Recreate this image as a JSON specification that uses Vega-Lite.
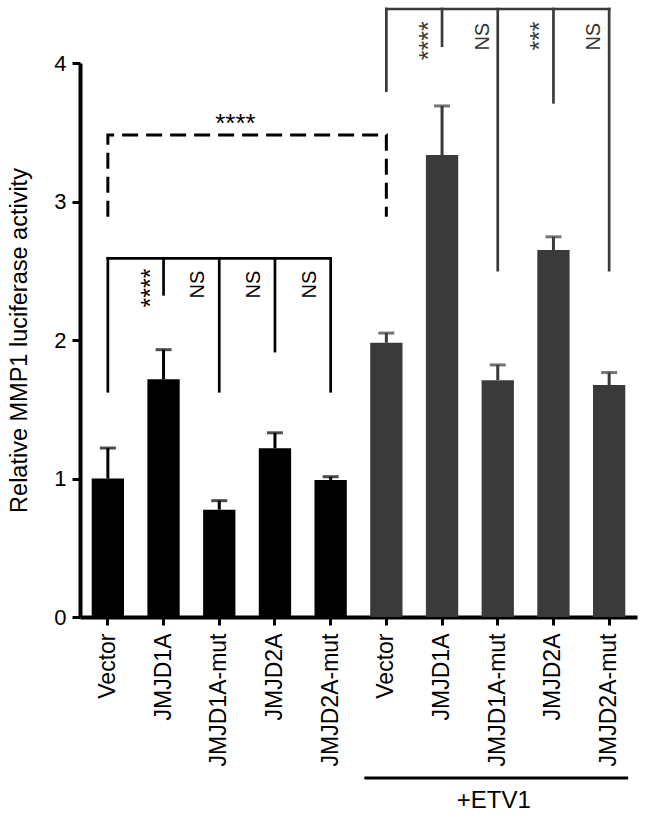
{
  "$schema": "https://vega.github.io/schema/vega-lite/v6.json",
  "autosize": {"type": "none"},
  "width": 557,
  "height": 554,
  "padding": {"left": 80, "top": 63, "right": 9, "bottom": 200},
  "background": "white",
  "config": {
    "view": {"stroke": null},
    "font": "Liberation Sans",
    "axis": {"grid": false, "domainColor": "#000", "tickColor": "#000", "labelColor": "#000", "titleColor": "#000", "labelFont": "Liberation Sans", "titleFont": "Liberation Sans"}
  },
  "datasets": {
    "bars": [
      {"key": "A:Vector", "group": "ctrl", "mean": 1.0, "upper": 1.22},
      {"key": "A:JMJD1A", "group": "ctrl", "mean": 1.716, "upper": 1.93},
      {"key": "A:JMJD1A-mut", "group": "ctrl", "mean": 0.775, "upper": 0.84},
      {"key": "A:JMJD2A", "group": "ctrl", "mean": 1.218, "upper": 1.33},
      {"key": "A:JMJD2A-mut", "group": "ctrl", "mean": 0.99, "upper": 1.013},
      {"key": "B:Vector", "group": "ETV1", "mean": 1.98, "upper": 2.05},
      {"key": "B:JMJD1A", "group": "ETV1", "mean": 3.335, "upper": 3.69},
      {"key": "B:JMJD1A-mut", "group": "ETV1", "mean": 1.71, "upper": 1.82},
      {"key": "B:JMJD2A", "group": "ETV1", "mean": 2.65, "upper": 2.745},
      {"key": "B:JMJD2A-mut", "group": "ETV1", "mean": 1.675, "upper": 1.765}
    ],
    "brackets": [
      {"key": "A:Vector", "key2": "A:JMJD2A-mut", "y": 2.59, "y2": 2.59, "group": "ctrl"},
      {"key": "A:Vector", "key2": "A:Vector", "y": 1.63, "y2": 2.59, "group": "ctrl"},
      {"key": "A:JMJD1A", "key2": "A:JMJD1A", "y": 2.33, "y2": 2.59, "group": "ctrl"},
      {"key": "A:JMJD1A-mut", "key2": "A:JMJD1A-mut", "y": 1.63, "y2": 2.59, "group": "ctrl"},
      {"key": "A:JMJD2A", "key2": "A:JMJD2A", "y": 1.92, "y2": 2.59, "group": "ctrl"},
      {"key": "A:JMJD2A-mut", "key2": "A:JMJD2A-mut", "y": 1.63, "y2": 2.59, "group": "ctrl"},
      {"key": "B:Vector", "key2": "B:JMJD2A-mut", "y": 4.39, "y2": 4.39, "group": "ETV1"},
      {"key": "B:Vector", "key2": "B:Vector", "y": 3.8, "y2": 4.39, "group": "ETV1"},
      {"key": "B:JMJD1A", "key2": "B:JMJD1A", "y": 4.125, "y2": 4.39, "group": "ETV1"},
      {"key": "B:JMJD1A-mut", "key2": "B:JMJD1A-mut", "y": 2.505, "y2": 4.39, "group": "ETV1"},
      {"key": "B:JMJD2A", "key2": "B:JMJD2A", "y": 3.716, "y2": 4.39, "group": "ETV1"},
      {"key": "B:JMJD2A-mut", "key2": "B:JMJD2A-mut", "y": 2.505, "y2": 4.39, "group": "ETV1"}
    ],
    "dashed": [
      {"key": "A:Vector", "y": 2.89, "ord": 1},
      {"key": "A:Vector", "y": 3.48, "ord": 2},
      {"key": "B:Vector", "y": 3.48, "ord": 3},
      {"key": "B:Vector", "y": 2.89, "ord": 4}
    ],
    "stars": [
      {"key": "A:JMJD1A", "y": 2.375, "label": "****", "group": "ctrl"},
      {"key": "B:JMJD1A", "y": 4.16, "label": "****", "group": "ETV1"},
      {"key": "B:JMJD2A", "y": 4.195, "label": "***", "group": "ETV1"}
    ],
    "nsLower": [
      {"key": "A:JMJD1A-mut", "y": 2.4, "label": "NS"},
      {"key": "A:JMJD2A", "y": 2.4, "label": "NS"},
      {"key": "A:JMJD2A-mut", "y": 2.4, "label": "NS"}
    ],
    "nsUpper": [
      {"key": "B:JMJD1A-mut", "y": 4.19, "label": "NS"},
      {"key": "B:JMJD2A-mut", "y": 4.19, "label": "NS"}
    ],
    "topStar": [
      {"key": "A:JMJD1A-mut", "y": 3.56, "label": "****"}
    ],
    "etv": [
      {"key": "B:Vector", "key2": "B:JMJD2A-mut", "y": -1.162, "labelKey": "B:JMJD1A-mut", "labelY": -1.33, "label": "+ETV1"}
    ]
  },
  "layer": [
    {
      "data": {"name": "bars"},
      "mark": {"type": "bar"},
      "encoding": {
        "x": {
          "field": "key", "type": "nominal", "title": null,
          "scale": {"domain": ["A:Vector", "A:JMJD1A", "A:JMJD1A-mut", "A:JMJD2A", "A:JMJD2A-mut", "B:Vector", "B:JMJD1A", "B:JMJD1A-mut", "B:JMJD2A", "B:JMJD2A-mut"], "paddingInner": 0.42, "paddingOuter": 0.21},
          "axis": {"labelExpr": "split(datum.label, ':')[1]", "labelAngle": -90, "labelFontSize": 23, "labelPadding": 8, "tickSize": 8, "tickWidth": 3, "domainWidth": 4, "labelLimit": 300}
        },
        "y": {
          "field": "mean", "type": "quantitative",
          "scale": {"domain": [0, 4], "nice": false},
          "axis": {"values": [0, 1, 2, 3, 4], "format": "d", "title": "Relative MMP1 luciferase activity", "titleFontSize": 23.5, "titleFontWeight": "normal", "titlePadding": 22, "labelFontSize": 22, "labelPadding": 6, "tickSize": 8, "tickWidth": 3, "domainWidth": 4}
        },
        "color": {"field": "group", "type": "nominal", "scale": {"domain": ["ctrl", "ETV1"], "range": ["#000000", "#3a3a3a"]}, "legend": null}
      }
    },
    {
      "data": {"name": "bars"},
      "mark": {"type": "rule", "strokeWidth": 3},
      "encoding": {
        "x": {"field": "key", "type": "nominal", "title": null},
        "y": {"field": "mean", "type": "quantitative"},
        "y2": {"field": "upper"},
        "color": {"field": "group", "type": "nominal", "legend": null}
      }
    },
    {
      "data": {"name": "bars"},
      "mark": {"type": "tick", "thickness": 3, "size": 16, "orient": "horizontal"},
      "encoding": {
        "x": {"field": "key", "type": "nominal", "title": null},
        "y": {"field": "upper", "type": "quantitative"},
        "color": {"field": "group", "type": "nominal", "legend": null}
      }
    },
    {
      "data": {"name": "brackets"},
      "mark": {"type": "rule", "strokeWidth": 2.7, "strokeCap": "square"},
      "encoding": {
        "x": {"field": "key", "type": "nominal", "title": null},
        "x2": {"field": "key2"},
        "y": {"field": "y", "type": "quantitative"},
        "y2": {"field": "y2"},
        "color": {"field": "group", "type": "nominal", "legend": null}
      }
    },
    {
      "data": {"name": "dashed"},
      "mark": {"type": "line", "strokeWidth": 3, "strokeDash": [16, 8], "color": "#000"},
      "encoding": {
        "x": {"field": "key", "type": "nominal", "title": null},
        "y": {"field": "y", "type": "quantitative"},
        "order": {"field": "ord", "type": "quantitative"}
      }
    },
    {
      "data": {"name": "stars"},
      "mark": {"type": "text", "angle": 270, "align": "center", "baseline": "middle", "fontSize": 25, "xOffset": -13},
      "encoding": {
        "x": {"field": "key", "type": "nominal", "title": null},
        "y": {"field": "y", "type": "quantitative"},
        "text": {"field": "label"},
        "color": {"field": "group", "type": "nominal", "legend": null}
      }
    },
    {
      "data": {"name": "nsLower"},
      "mark": {"type": "text", "angle": 270, "align": "center", "baseline": "middle", "fontSize": 20, "xOffset": -21, "color": "#000"},
      "encoding": {
        "x": {"field": "key", "type": "nominal", "title": null},
        "y": {"field": "y", "type": "quantitative"},
        "text": {"field": "label"}
      }
    },
    {
      "data": {"name": "nsUpper"},
      "mark": {"type": "text", "angle": 270, "align": "center", "baseline": "middle", "fontSize": 20, "xOffset": -15, "color": "#333"},
      "encoding": {
        "x": {"field": "key", "type": "nominal", "title": null},
        "y": {"field": "y", "type": "quantitative"},
        "text": {"field": "label"}
      }
    },
    {
      "data": {"name": "topStar"},
      "mark": {"type": "text", "align": "center", "baseline": "middle", "fontSize": 26, "color": "#000"},
      "encoding": {
        "x": {"field": "key", "type": "nominal", "title": null, "bandPosition": 1},
        "y": {"field": "y", "type": "quantitative"},
        "text": {"field": "label"}
      }
    },
    {
      "data": {"name": "etv"},
      "mark": {"type": "rule", "strokeWidth": 3, "color": "#000", "xOffset": -22, "x2Offset": 19},
      "encoding": {
        "x": {"field": "key", "type": "nominal", "title": null},
        "x2": {"field": "key2"},
        "y": {"field": "y", "type": "quantitative"}
      }
    },
    {
      "data": {"name": "etv"},
      "mark": {"type": "text", "align": "center", "baseline": "middle", "fontSize": 24, "color": "#000", "xOffset": -4},
      "encoding": {
        "x": {"field": "labelKey", "type": "nominal", "title": null},
        "y": {"field": "labelY", "type": "quantitative"},
        "text": {"field": "label"}
      }
    }
  ]
}
